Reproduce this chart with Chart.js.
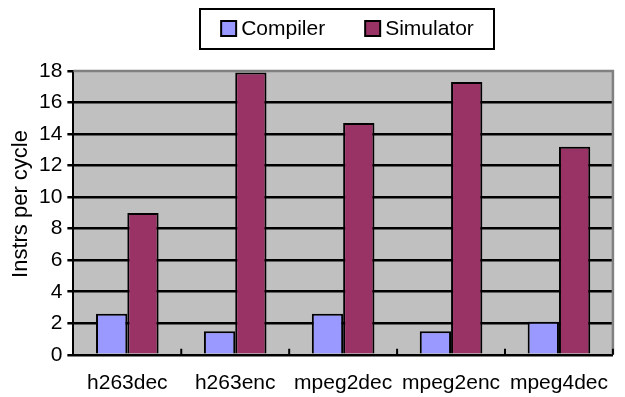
<!DOCTYPE html>
<html>
<head>
<meta charset="utf-8">
<script src="https://cdn.jsdelivr.net/npm/chart.js@4/dist/chart.umd.min.js"></script>
<style>
  html, body { margin: 0; padding: 0; background: #fff; }
  #wrap { width: 625px; height: 397px; position: relative; }
</style>
</head>
<body>
<div id="wrap"><canvas id="ipcChart"></canvas></div>
<script>
// данные с картинки
const benchmarks = ['h263dec', 'h263enc', 'mpeg2dec', 'mpeg2enc', 'mpeg4dec'];
const compilerIpc = [2.6, 1.5, 2.6, 1.5, 2.1];
const simulatorIpc = [9.0, 17.9, 14.7, 17.3, 13.2];
const yTicks = [0, 2, 4, 6, 8, 10, 12, 14, 16, 18];
const yTitle = 'Instrs per cycle';

const FONT = { family: 'Arial, "Liberation Sans", sans-serif', size: 21 };

// серый фон области графика, серая рамка сверху/справа, засечки, подпись оси и легенда в рамке
const plotFrame = {
    id: 'plotFrame',
    beforeDraw(chart) {
        const { ctx, chartArea: a } = chart;
        ctx.save();
        ctx.fillStyle = '#C0C0C0';
        ctx.fillRect(a.left, a.top, a.right - a.left, a.bottom - a.top);
        ctx.restore();
    },
    afterDatasetsDraw(chart) {
        const { ctx, chartArea: a } = chart;
        const x = chart.scales.x;
        ctx.save();
        ctx.strokeStyle = '#808080';
        ctx.lineWidth = 2.5;
        ctx.beginPath();
        ctx.moveTo(a.left, a.top);
        ctx.lineTo(a.right, a.top);
        ctx.lineTo(a.right, a.bottom);
        ctx.stroke();
        // маленькие засечки между категориями, внутрь
        ctx.strokeStyle = '#000';
        ctx.lineWidth = 2;
        ctx.beginPath();
        for (let i = 1; i <= benchmarks.length; i++) {
            let px;
            if (i === benchmarks.length) px = a.right;
            else px = (x.getPixelForValue(i - 1) + x.getPixelForValue(i)) / 2;
            ctx.moveTo(px, a.bottom);
            ctx.lineTo(px, a.bottom - 6);
        }
        ctx.stroke();
        ctx.restore();
    },
    afterDraw(chart) {
        const { ctx } = chart;
        // подпись оси Y (чуть выше центра, как в оригинале)
        ctx.save();
        ctx.font = `22px ${FONT.family}`;
        ctx.fillStyle = '#000';
        ctx.textAlign = 'center';
        ctx.textBaseline = 'middle';
        ctx.translate(21, 204);
        ctx.rotate(-Math.PI / 2);
        ctx.fillText(yTitle, 0, 0);
        ctx.restore();

        // легенда: квадратик + подпись, всё в чёрной рамке
        const box = 15, gap = 5, between = 40;
        ctx.save();
        ctx.font = `${FONT.size}px ${FONT.family}`;
        const items = chart.data.datasets.map(ds => ({
            text: ds.label, color: ds.backgroundColor, w: ctx.measureText(ds.label).width
        }));
        const total = items.reduce((s, it) => s + box + gap + it.w, 0) + between * (items.length - 1);
        const cx = 347.5, cy = 28.5;
        let x = cx - total / 2;
        ctx.strokeStyle = '#000';
        ctx.lineWidth = 2;
        ctx.strokeRect(200, 9, 294, 40);
        ctx.textBaseline = 'middle';
        items.forEach(it => {
            ctx.fillStyle = it.color;
            ctx.fillRect(x, cy - box / 2, box, box);
            ctx.strokeRect(x, cy - box / 2, box, box);
            ctx.fillStyle = '#000';
            ctx.fillText(it.text, x + box + gap, cy + 1);
            x += box + gap + it.w + between;
        });
        ctx.restore();
    }
};

new Chart(document.getElementById('ipcChart'), {
    type: 'bar',
    data: {
        labels: benchmarks,
        datasets: [{
            label: 'Compiler',
            data: compilerIpc,
            backgroundColor: '#9999FF',
            borderColor: '#000',
            borderWidth: 2
        }, {
            label: 'Simulator',
            data: simulatorIpc,
            backgroundColor: '#993366',
            borderColor: '#000',
            borderWidth: 2
        }]
    },
    options: {
        responsive: true,
        maintainAspectRatio: false,
        animation: false,
        datasets: {
            bar: { categoryPercentage: 0.58, barPercentage: 1.0 }
        },
        layout: { padding: { left: 34, right: 10, top: 71, bottom: -15 } },
        plugins: {
            legend: { display: false },
            tooltip: { enabled: false }
        },
        scales: {
            x: {
                grid: { display: false, drawTicks: false, tickLength: 0 },
                border: { display: true, color: '#000', width: 2 },
                ticks: { color: '#000', font: FONT, padding: 16, maxRotation: 0, autoSkip: false }
            },
            y: {
                min: 0,
                max: 18,
                afterBuildTicks(scale) {
                    scale.ticks = yTicks.map(v => ({ value: v }));
                },
                grid: {
                    color: ctx => (ctx.tick && ctx.tick.value === 18 ? 'rgba(0,0,0,0)' : '#000'),
                    lineWidth: 2.5,
                    tickLength: 6,
                    tickColor: '#000',
                    drawTicks: true
                },
                border: { display: true, color: '#000', width: 2 },
                ticks: { color: '#000', font: FONT, padding: 5 },
                title: { display: false }
            }
        }
    },
    plugins: [plotFrame]
});
</script>
</body>
</html>
